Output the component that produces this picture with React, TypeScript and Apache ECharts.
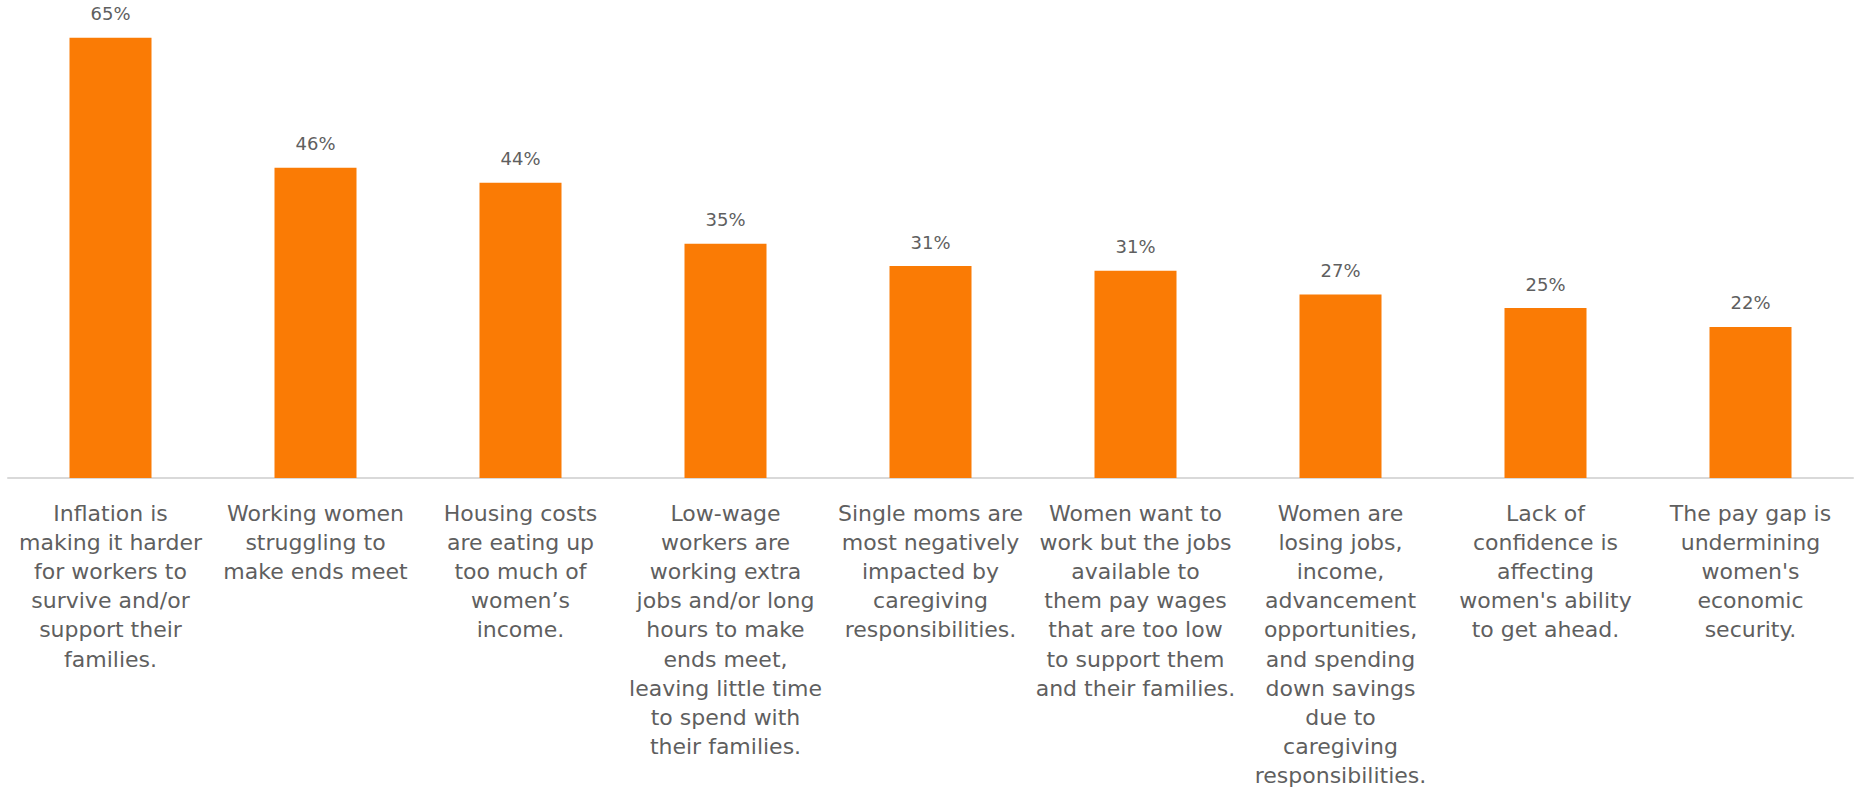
import React, { useEffect, useRef } from "react";
import * as echarts from "echarts";

const categories: string[] = [
  "Inflation is\nmaking it harder\nfor workers to\nsurvive and/or\nsupport their\nfamilies.",
  "Working women\nstruggling to\nmake ends meet",
  "Housing costs\nare eating up\ntoo much of\nwomen\u2019s\nincome.",
  "Low-wage\nworkers are\nworking extra\njobs and/or long\nhours to make\nends meet,\nleaving little time\nto spend with\ntheir families.",
  "Single moms are\nmost negatively\nimpacted by\ncaregiving\nresponsibilities.",
  "Women want to\nwork but the jobs\navailable to\nthem pay wages\nthat are too low\nto support them\nand their families.",
  "Women are\nlosing jobs,\nincome,\nadvancement\nopportunities,\nand spending\ndown savings\ndue to\ncaregiving\nresponsibilities.",
  "Lack of\nconfidence is\naffecting\nwomen's ability\nto get ahead.",
  "The pay gap is\nundermining\nwomen's\neconomic\nsecurity.",
];

const values: number[] = [65, 45.8, 43.6, 34.6, 31.3, 30.6, 27.1, 25.1, 22.3];

const FONT = "'DejaVu Sans', sans-serif";
const GREY = "#5f5f5f";

export default function App() {
  const ref = useRef<HTMLDivElement>(null);
  useEffect(() => {
    if (!ref.current) return;
    const chart = echarts.init(ref.current, null, { renderer: "svg" });
    chart.setOption({
      animation: false,
      backgroundColor: "#ffffff",
      grid: { left: 8, right: 3, top: 4, bottom: 307, containLabel: false },
      xAxis: {
        type: "category",
        data: categories,
        axisLine: { show: true, lineStyle: { color: "#D9D9D9", width: 2 } },
        axisTick: { show: false },
        axisLabel: {
          interval: 0,
          margin: 21,
          color: GREY,
          fontFamily: FONT,
          fontSize: 22,
          lineHeight: 29.1,
          align: "center",
          verticalAlign: "top",
        },
      },
      yAxis: {
        type: "value",
        min: 0,
        max: 70,
        show: false,
        splitLine: { show: false },
      },
      series: [
        {
          type: "bar",
          data: values,
          barWidth: "40%",
          itemStyle: { color: "#FA7B05" },
          label: {
            show: true,
            position: "top",
            distance: 15,
            color: GREY,
            fontFamily: FONT,
            fontSize: 18,
            formatter: (p: any) => `${Math.round(p.value)}%`,
          },
        },
      ],
    });
    return () => chart.dispose();
  }, []);
  return (
    <div
      ref={ref}
      style={{ position: "fixed", left: 0, top: 0, width: 1856, height: 790 }}
    />
  );
}
